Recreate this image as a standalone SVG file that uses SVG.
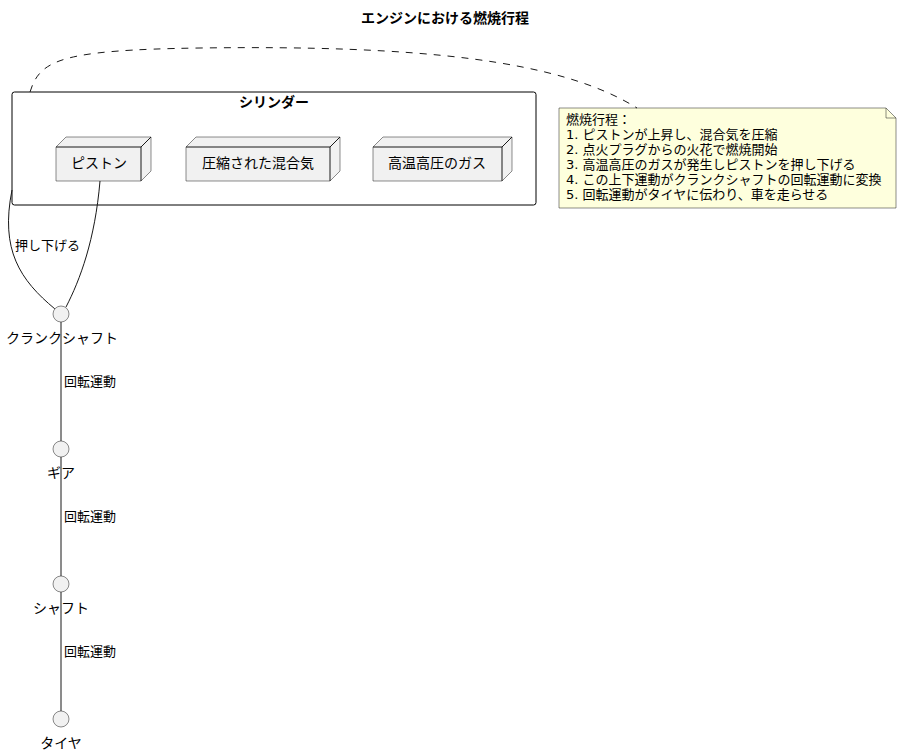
<svg xmlns="http://www.w3.org/2000/svg" width="902" height="756" viewBox="0 0 902 756">
<style>
text{font-family:"DejaVu Sans","Noto Sans CJK JP",sans-serif;font-size:13px;fill:#000}
.b{font-weight:bold}
.l{font-size:14px}
.box{fill:#F1F1F1;stroke:#181818;stroke-width:0.5}
.ln{fill:none;stroke:#181818;stroke-width:1}
.c{fill:#F1F1F1;stroke:#181818;stroke-width:0.5}
</style>
<rect width="902" height="756" fill="#fff"/>
<text class="b l" x="445" y="23" text-anchor="middle">エンジンにおける燃焼行程</text>
<g id="cylinder">
<rect x="12" y="92" width="524" height="113" rx="2.5" fill="none" stroke="#000" stroke-width="1"/>
<text class="b l" x="274" y="107" text-anchor="middle">シリンダー</text>
</g>
<g id="piston">
<polygon class="box" points="56,147 66,137 151,137 151,171 141,181 56,181"/>
<path class="ln" d="M56,147 L141,147 L151,137 M141,147 L141,181" stroke-width="0.5"/>
<text class="l" x="99" y="168" text-anchor="middle">ピストン</text>
</g>
<g id="mixture">
<polygon class="box" points="186,147 196,137 340,137 340,171 330,181 186,181"/>
<path class="ln" d="M186,147 L330,147 L340,137 M330,147 L330,181" stroke-width="0.5"/>
<text class="l" x="258" y="168" text-anchor="middle">圧縮された混合気</text>
</g>
<g id="gas">
<polygon class="box" points="373,147 383,137 512,137 512,171 502,181 373,181"/>
<path class="ln" d="M373,147 L502,147 L512,137 M502,147 L502,181" stroke-width="0.5"/>
<text class="l" x="437" y="168" text-anchor="middle">高温高圧のガス</text>
</g>
<g id="note">
<path d="M559,108 L886,108 L896,118 L896,208 L559,208 Z" fill="#FEFFDD" stroke="#181818" stroke-width="0.5"/>
<path d="M886,108 L886,118 L896,118" fill="none" stroke="#181818" stroke-width="0.5"/>
<text x="566" y="124">燃焼行程：</text>
<text x="566" y="139">1. ピストンが上昇し、混合気を圧縮</text>
<text x="566" y="154">2. 点火プラグからの火花で燃焼開始</text>
<text x="566" y="169">3. 高温高圧のガスが発生しピストンを押し下げる</text>
<text x="566" y="184">4. この上下運動がクランクシャフトの回転運動に変換</text>
<text x="566" y="199">5. 回転運動がタイヤに伝わり、車を走らせる</text>
</g>
<g id="connectors">
<path class="ln" d="M30,92 C40,60 60,50 200,48 C420,45 560,60 637,108" stroke-dasharray="7,7"/>
<path class="ln" d="M100,181 C95,240 80,280 66,307"/>
<path class="ln" d="M12,190 C0,250 20,280 55,309"/>
<text x="15" y="250">押し下げる</text>
<line class="ln" x1="61" y1="322" x2="61" y2="441"/>
<line class="ln" x1="61" y1="457" x2="61" y2="576"/>
<line class="ln" x1="61" y1="592" x2="61" y2="711"/>
<text x="64" y="386">回転運動</text>
<text x="64" y="521">回転運動</text>
<text x="64" y="656">回転運動</text>
</g>
<g id="crankshaft">
<circle class="c" cx="61" cy="314" r="8"/>
<text class="l" x="62" y="343" text-anchor="middle">クランクシャフト</text>
</g>
<g id="gear">
<circle class="c" cx="61" cy="449" r="8"/>
<text class="l" x="61" y="478" text-anchor="middle">ギア</text>
</g>
<g id="shaft">
<circle class="c" cx="61" cy="584" r="8"/>
<text class="l" x="61" y="613" text-anchor="middle">シャフト</text>
</g>
<g id="tire">
<circle class="c" cx="61" cy="719" r="8"/>
<text class="l" x="61" y="748" text-anchor="middle">タイヤ</text>
</g>
</svg>
